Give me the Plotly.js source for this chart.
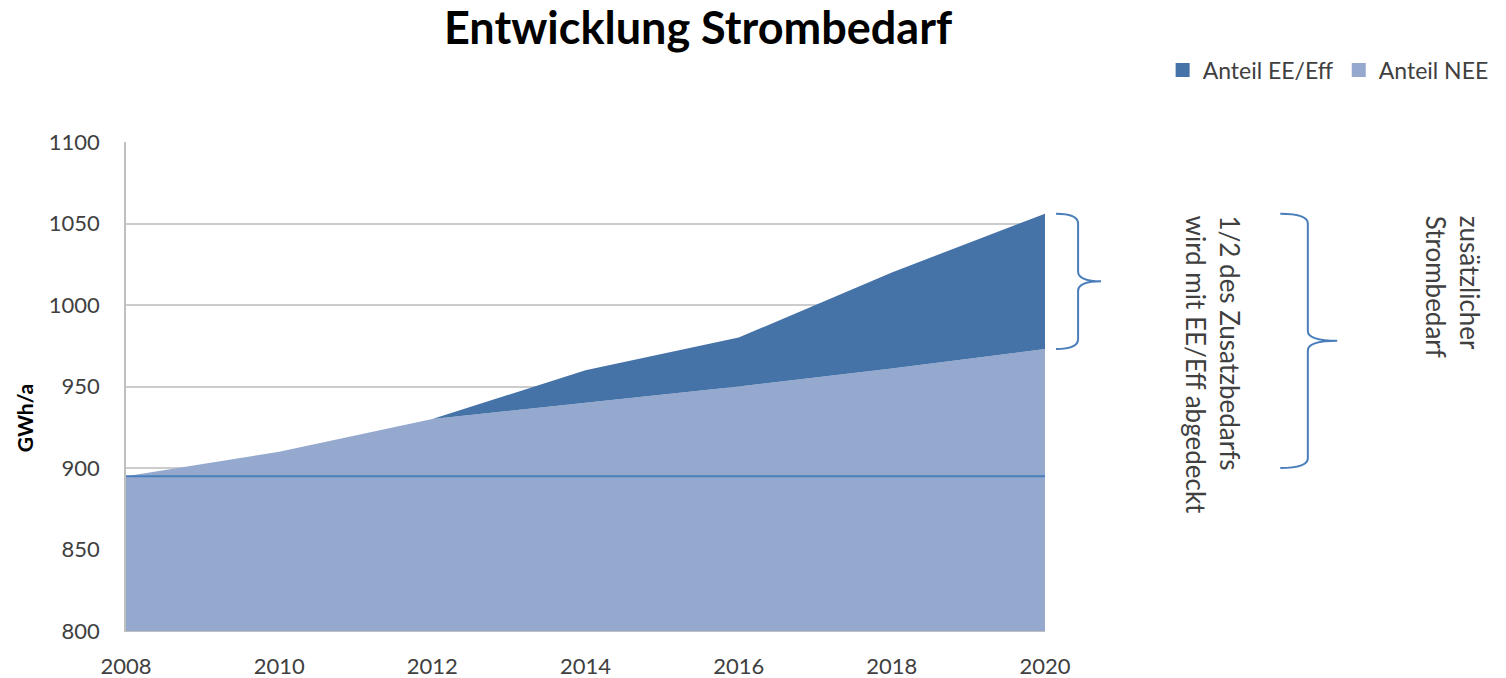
<!DOCTYPE html>
<html>
<head>
<meta charset="utf-8">
<script src="https://cdn.plot.ly/plotly-3.0.1.min.js"></script>
<style>
  html, body { margin: 0; padding: 0; background: #fff; }
  #chart { width: 1506px; height: 678px; }
</style>
</head>
<body>
<div id="chart"></div>
<script>
// Werte
var jahre = [2008, 2010, 2012, 2014, 2016, 2018, 2020];
var anteilNEE = [895, 910, 930, 940, 950, 961, 973];
var anteilEE = [0, 0, 0, 20, 30, 59, 83];
var basis = [895, 895, 895, 895, 895, 895, 895];
var yTicks = [800, 850, 900, 950, 1000, 1050, 1100];

var dunkel = 'rgb(69,114,167)';
var hell = 'rgb(149,169,207)';
var linie = 'rgb(74,126,187)';
var schrift = 'Lato, "Open Sans", sans-serif';

// gesamtbedarf 2020 = oberkante der flaeche
var letzt = jahre.length - 1;
var gesamt2020 = anteilNEE[letzt] + anteilEE[letzt];

// geschweifte klammer, x in paper, y in daten
function klammer(x0, xs, xt, yTop, yBot, r) {
    var yMid = (yTop + yBot) / 2;
    return 'M' + x0 + ',' + yTop +
        ' Q' + xs + ',' + yTop + ' ' + xs + ',' + (yTop - r) +
        ' L' + xs + ',' + (yMid + r) +
        ' Q' + xs + ',' + yMid + ' ' + xt + ',' + yMid +
        ' Q' + xs + ',' + yMid + ' ' + xs + ',' + (yMid - r) +
        ' L' + xs + ',' + (yBot + r) +
        ' Q' + xs + ',' + yBot + ' ' + x0 + ',' + yBot;
}

var data = [
    {
        x: jahre, y: anteilNEE, name: 'Anteil NEE',
        stackgroup: 'eins', mode: 'none', fillcolor: hell,
        showlegend: false, hoverinfo: 'x+y'
    },
    {
        x: jahre, y: anteilEE, name: 'Anteil EE/Eff',
        stackgroup: 'eins', mode: 'none', fillcolor: dunkel,
        showlegend: false, hoverinfo: 'x+y'
    },
    {
        x: jahre, y: basis, mode: 'lines', name: 'Basis',
        line: {color: linie, width: 2}, showlegend: false
    },
    // nur fuer die legende
    {
        x: [null], y: [null], mode: 'markers', name: 'Anteil EE/Eff',
        marker: {symbol: 'square', size: 14, color: dunkel}
    },
    {
        x: [null], y: [null], mode: 'markers', name: 'Anteil NEE',
        marker: {symbol: 'square', size: 14, color: hell}
    }
];

var layout = {
    width: 1506,
    height: 678,
    margin: {l: 126, r: 459, t: 142, b: 47},
    paper_bgcolor: '#fff',
    plot_bgcolor: '#fff',
    font: {family: schrift, color: '#404040'},
    title: {
        text: '<b>Entwicklung Strombedarf</b>',
        font: {family: schrift, size: 45, color: '#000'},
        x: 0.4635, xanchor: 'center',
        yref: 'container', y: 0.958, yanchor: 'middle'
    },
    xaxis: {
        range: [2008, 2020],
        tickvals: jahre,
        ticks: '',
        showgrid: false,
        showline: true,
        linecolor: '#bfbfbf',
        linewidth: 1,
        zeroline: false,
        tickfont: {size: 22, color: '#404040'},
        ticklabelstandoff: 16
    },
    yaxis: {
        range: [800, 1100],
        tickvals: yTicks,
        ticks: '',
        showgrid: true,
        gridcolor: '#cccccc',
        gridwidth: 1.5,
        showline: true,
        linecolor: '#bfbfbf',
        linewidth: 1.5,
        zeroline: false,
        tickfont: {size: 22, color: '#404040'},
        ticklabelstandoff: 20
    },
    legend: {
        orientation: 'h',
        traceorder: 'normal',
        x: 1.128, xanchor: 'left',
        y: 1.147, yanchor: 'middle',
        font: {size: 23, color: '#404040'},
        itemwidth: 30
    },
    shapes: [
        {
            type: 'path', xref: 'paper', yref: 'y',
            path: klammer(1.012, 1.036, 1.061, gesamt2020, anteilNEE[letzt], 6),
            line: {color: linie, width: 2}
        },
        {
            type: 'path', xref: 'paper', yref: 'y',
            path: klammer(1.256, 1.286, 1.318, gesamt2020, 900, 6),
            line: {color: linie, width: 2}
        }
    ],
    annotations: [
        {
            // achsentitel, etwas unter der mitte wie im original
            xref: 'paper', yref: 'paper', x: -0.1097, y: 0.4356,
            xanchor: 'center', yanchor: 'middle',
            text: '<b>GWh/a</b>', textangle: -90, showarrow: false,
            font: {size: 21, color: '#000'}
        },
        {
            xref: 'paper', yref: 'y', x: 1.1825, y: gesamt2020,
            xanchor: 'center', yanchor: 'top',
            text: '1/2 des Zusatzbedarfs<br>wird mit EE/Eff abgedeckt',
            textangle: 90, align: 'left', showarrow: false,
            font: {size: 26, color: '#404040'}
        },
        {
            xref: 'paper', yref: 'y', x: 1.444, y: gesamt2020,
            xanchor: 'center', yanchor: 'top',
            text: 'zusätzlicher<br>Strombedarf',
            textangle: 90, align: 'left', showarrow: false,
            font: {size: 26, color: '#404040'}
        }
    ]
};

Plotly.newPlot('chart', data, layout, {displayModeBar: false});
</script>
</body>
</html>
